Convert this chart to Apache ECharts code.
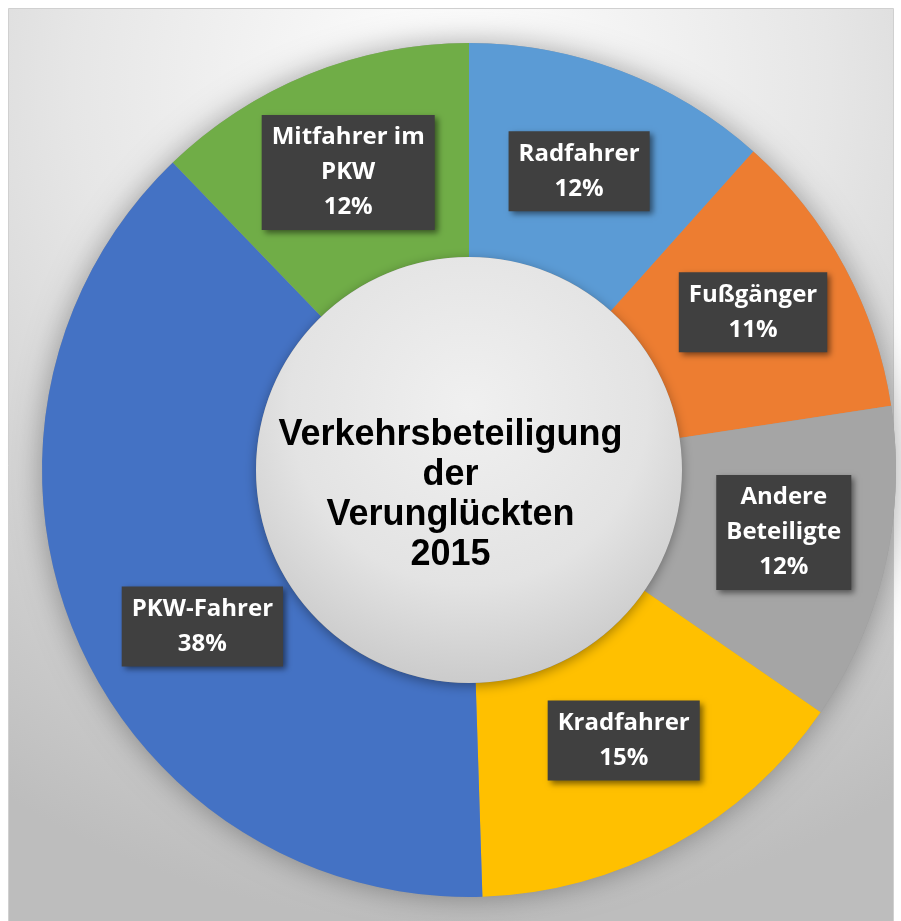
<!DOCTYPE html>
<html>
	<head>
		<meta charset="utf-8">
		<title></title>
		<script src="https://cdn.jsdelivr.net/npm/echarts@6/dist/echarts.min.js"></script>
		<style>
			body { margin: 0; background: #fff; }
		</style>
	</head>
	<body>
		<div id="my" style="width: 901px;height: 921px;"></div>

		<script>
			var myChart = echarts.init(document.getElementById('my'));

			// Kategorien und Anteile (Prozent)
			var names = ['Radfahrer', 'Fußgänger', 'Andere\nBeteiligte', 'Kradfahrer', 'PKW-Fahrer', 'Mitfahrer im\nPKW'];
			var values = [11.6, 11.0, 12.0, 14.9, 38.3, 12.2];
			var colors = ['#5B9BD5', '#ED7D31', '#A5A5A5', '#FFC000', '#4472C4', '#70AD47'];
			var titleText = 'Verkehrsbeteiligung\nder\nVerunglückten\n2015';

			// kleine Verschiebung der Beschriftungen
			var nudge = [[-5, 3], [0, -4], [0, -10], [0, -13], [31, 31], [0, 2]];

			var pieData = names.map(function (n, i) {
				return { name: n, value: values[i], itemStyle: { color: colors[i] } };
			});

			var option = {
				title: {
					text: titleText,
					left: 'center',
					top: 410,
					textStyle: {
						fontFamily: 'Liberation Sans',
						fontWeight: 'bold',
						fontSize: 36,
						lineHeight: 40,
						color: '#000'
					}
				},
				graphic: [
					{
						type: 'rect',
						z: -10,
						shape: { x: 8.5, y: 8.5, width: 885, height: 930 },
						style: {
							fill: {
								type: 'radial', x: 0.5, y: 0.08, r: 0.95,
								colorStops: [
									{ offset: 0, color: '#ffffff' },
									{ offset: 0.45, color: '#e6e6e6' },
									{ offset: 1, color: '#bdbdbd' }
								]
							},
							stroke: '#d0d0d0',
							lineWidth: 1
						}
					}
				],
				series: [
					{// Schatten unter dem Ring
						type: 'pie',
						silent: true,
						center: [469, 470],
						radius: [0, 427],
						label: { show: false },
						labelLine: { show: false },
						itemStyle: {
							color: '#9a9a9a',
							shadowBlur: 30,
							shadowColor: 'rgba(0,0,0,0.35)'
						},
						data: [1]
					},
					{
						name: 'Verunglückte',
						type: 'pie',
						center: [469, 470],
						radius: [213, 427],
						startAngle: 90,
						clockwise: true,
						percentPrecision: 0,
						silent: true,
						data: pieData,
						label: {
							show: true,
							position: 'inside',
							formatter: '{b}\n{d}%',
							fontFamily: 'Open Sans',
							fontWeight: 'bold',
							fontSize: 24,
							lineHeight: 35,
							color: '#fff',
							backgroundColor: '#404040',
							padding: [5, 10],
							shadowColor: 'rgba(0,0,0,0.5)',
							shadowBlur: 6,
							shadowOffsetX: 3,
							shadowOffsetY: 3
						},
						labelLayout: function (p) {
							var n = nudge[p.dataIndex];
							return { dx: n[0], dy: n[1] };
						},
						labelLine: { show: false }
					},
					{// Kugel in der Mitte
						type: 'pie',
						silent: true,
						center: [469, 470],
						radius: [0, 213],
						label: { show: false },
						labelLine: { show: false },
						itemStyle: {
							color: {
								type: 'radial', x: 0.5, y: 0.35, r: 0.7,
								colorStops: [
									{ offset: 0, color: '#f0f0f0' },
									{ offset: 0.6, color: '#e3e3e3' },
									{ offset: 1, color: '#c6c6c6' }
								]
							},
							shadowBlur: 12,
							shadowOffsetY: 3,
							shadowColor: 'rgba(0,0,0,0.35)'
						},
						data: [1]
					}
				]
			};

			myChart.setOption(option);
		</script>
	</body>
</html>
